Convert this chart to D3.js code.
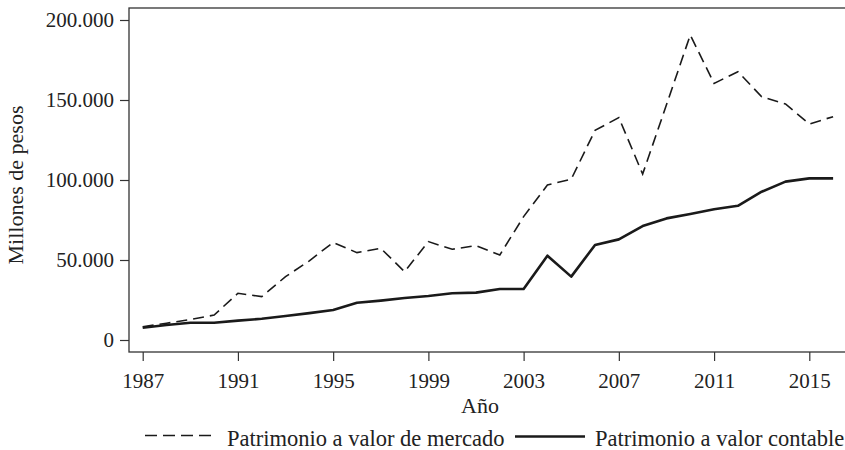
<!DOCTYPE html>
<html><head><meta charset="utf-8">
<script src="https://cdn.jsdelivr.net/npm/d3@7"></script>
<style>body{margin:0;background:#fff}svg{display:block}text{font-family:"Liberation Serif","Times New Roman",serif;fill:#222}</style>
</head><body><svg id="c" width="845" height="450"></svg>
<script>
const years = d3.range(1987, 2017);
const mercado = [8300,10500,12800,15600,29200,27100,39600,49500,61000,54600,57300,42700,61500,56700,59000,53100,77100,96900,100500,131000,139000,103700,147000,190600,160400,167700,152000,147500,135000,139600];
const contable = [7700,9400,10800,10800,12100,13300,15000,16800,18800,23300,24600,26200,27500,29200,29600,31900,31900,52700,39600,59400,62900,71200,76000,78700,81700,83900,92700,99000,101000,101000];
const xTicks = [1987,1991,1995,1999,2003,2007,2011,2015];
const yTicks = [0,50000,100000,150000,200000];
const labels = {x:"Año", y:"Millones de pesos", s1:"Patrimonio a valor de mercado", s2:"Patrimonio a valor contable"};

const svg = d3.select("#c");
const L=129, T=8, R=850, B=352;
const x = d3.scaleLinear().domain([1987,2015]).range([142.7,809.3]);
const y = d3.scaleLinear().domain([0,200000]).range([340,20]);
const fmt = v => d3.format(",")(v).replace(/,/g,".");

svg.append("rect").attr("x",L).attr("y",T).attr("width",R-L).attr("height",B-T)
  .attr("fill","none").attr("stroke","#333").attr("stroke-width",1.3);

const gy = svg.append("g").attr("transform",`translate(${L},0)`)
  .call(d3.axisLeft(y).tickValues(yTicks).tickFormat(fmt).tickSize(9).tickPadding(6));
const gx = svg.append("g").attr("transform",`translate(0,${B})`)
  .call(d3.axisBottom(x).tickValues(xTicks).tickFormat(d3.format("d")).tickSize(9).tickPadding(12));
[gy,gx].forEach(g=>{
  g.select(".domain").remove();
  g.selectAll(".tick line").attr("stroke","#333").attr("stroke-width",1.2);
  g.selectAll(".tick text").attr("font-size",21).style("font-family",'"Liberation Serif",serif').attr("fill","#222");
});

const line = d3.line().x((d,i)=>x(years[i])).y(d=>y(d));
svg.append("path").datum(mercado).attr("d",line).attr("fill","none")
  .attr("stroke","#1a1a1a").attr("stroke-width",1.6).attr("stroke-dasharray","11,6");
svg.append("path").datum(contable).attr("d",line).attr("fill","none")
  .attr("stroke","#1a1a1a").attr("stroke-width",2.6).attr("stroke-linejoin","round");

svg.append("text").attr("x",480).attr("y",413).attr("text-anchor","middle").attr("font-size",22).text(labels.x);
svg.append("text").attr("transform","translate(23,185) rotate(-90)").attr("text-anchor","middle").attr("font-size",22).text(labels.y);

svg.append("line").attr("x1",145).attr("x2",211).attr("y1",435.5).attr("y2",435.5)
  .attr("stroke","#1a1a1a").attr("stroke-width",1.6).attr("stroke-dasharray","12,6");
svg.append("text").attr("x",227).attr("y",446).attr("font-size",22.5).text(labels.s1);
svg.append("line").attr("x1",515).attr("x2",585).attr("y1",436.5).attr("y2",436.5)
  .attr("stroke","#1a1a1a").attr("stroke-width",2.6);
svg.append("text").attr("x",595).attr("y",446).attr("font-size",22.5).text(labels.s2);
</script></body></html>
